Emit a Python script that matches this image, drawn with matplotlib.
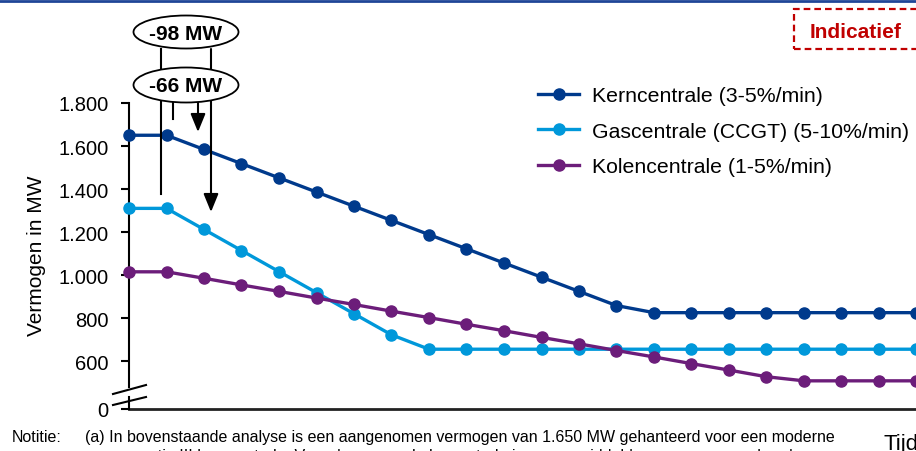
import numpy as np
import matplotlib
matplotlib.use("Agg")
import matplotlib.pyplot as plt
from matplotlib.patches import Ellipse, Rectangle, FancyArrowPatch
from matplotlib.lines import Line2D

plt.rcParams['font.family'] = ['Liberation Sans', 'DejaVu Sans']

# data (MW per tijdstap)
tijd = np.arange(22)
kern = [1650, 1650, 1584, 1518, 1452, 1386, 1320, 1254, 1188, 1122, 1056,
        990, 924, 858, 825, 825, 825, 825, 825, 825, 825, 825]
gas = [1310, 1310, 1212, 1114, 1016, 918, 820, 722, 655, 655, 655,
       655, 655, 655, 655, 655, 655, 655, 655, 655, 655, 655]
kolen = [1015, 1015, 985, 954, 924, 893, 863, 832, 802, 771, 741,
         710, 680, 649, 619, 588, 558, 527, 508, 508, 508, 508]

labels = ['Kerncentrale (3-5%/min)', 'Gascentrale (CCGT) (5-10%/min)',
          'Kolencentrale (1-5%/min)']
colors = ['#003a8c', '#0098da', '#6c1d7a']

ytick_vals = [600, 800, 1000, 1200, 1400, 1600, 1800]
ytick_labels = ['600', '800', '1.000', '1.200', '1.400', '1.600', '1.800']
y_break = 377  # onderkant van de as, getoond als "0"

W, H = 916, 452
fig = plt.figure(figsize=(W / 100, H / 100), dpi=100)


def px(x, y):
    """pixelpositie -> figuurfractie"""
    return (x / W, 1 - y / H)


ax = fig.add_axes([129 / W, (H - 410) / H, (954 - 129) / W, (410 - 104) / H])
for vals, c, lab in zip([kern, gas, kolen], colors, labels):
    ax.plot(tijd, vals, '-o', color=c, lw=2.4, ms=8, label=lab,
            clip_on=False, zorder=3)

ax.set_xlim(0, 22)
ax.set_ylim(y_break, 1800)
ax.set_xticks([])
ax.set_yticks([y_break] + ytick_vals)
ax.set_yticklabels(['0'] + ytick_labels, fontsize=14.5)
ax.tick_params(axis='y', length=5.5, width=1.5, pad=9)
for s in ['top', 'right']:
    ax.spines[s].set_visible(False)
ax.spines['left'].set_linewidth(1.5)
ax.spines['bottom'].set_linewidth(2)
ax.spines['bottom'].set_color('#222222')
# as-onderbreking
ax.spines['left'].set_bounds(y_break + (410 - 388) / 0.215, 1800)
fig.add_artist(Line2D([129 / W, 129 / W], [px(0, 398)[1], px(0, 410)[1]],
                      color='black', lw=1.5))
for y0, y1 in [(395, 386), (406, 398)]:
    fig.add_artist(Line2D([113 / W, 146 / W], [px(0, y0)[1], px(0, y1)[1]],
                          color='black', lw=1.5))

ax.set_ylabel('Vermogen in MW', fontsize=15)
ax.yaxis.set_label_coords(46 / W, px(0, 256)[1], transform=fig.transFigure)

ax.legend(loc='upper left', bbox_to_anchor=px(538, 87),
          bbox_transform=fig.transFigure, frameon=False, fontsize=15.3,
          handlelength=1.95, handletextpad=0.6, labelspacing=0.78,
          borderpad=0, borderaxespad=0)

# pijlen en ellipsen
for x, y0, y1 in [(161, 50, 195), (173, 103, 120)]:
    fig.add_artist(Line2D([x / W, x / W], [px(0, y0)[1], px(0, y1)[1]],
                          color='black', lw=1.5, zorder=5))
for x, y0, y1 in [(211, 50, 213), (198, 103, 133)]:
    fig.add_artist(FancyArrowPatch(px(x, y0), px(x, y1),
                                   transform=fig.transFigure,
                                   arrowstyle='-|>,head_length=1.1,head_width=0.45',
                                   mutation_scale=10, shrinkA=0, shrinkB=0,
                                   color='black', lw=1.5, zorder=5))
for cy, h, txt in [(33, 33, '-98 MW'), (86, 35, '-66 MW')]:
    fig.add_artist(Ellipse(px(186, cy), 105 / W, h / H,
                           transform=fig.transFigure, facecolor='white',
                           edgecolor='black', lw=1.3, zorder=6))
    fig.text(*px(186, cy + 1), txt, ha='center', va='center', fontsize=15,
             fontweight='bold', zorder=7)

# Indicatief
fig.add_artist(Rectangle(px(794, 50), (950 - 794) / W, 40 / H,
                         transform=fig.transFigure, fill=False,
                         edgecolor='#c00000', lw=1.6, ls=(0, (3, 1.8))))
fig.text(*px(856, 32), 'Indicatief', ha='center', va='center',
         fontsize=15, fontweight='bold', color='#c00000')

# bovenste lijn
fig.add_artist(Line2D([0, 1], [px(0, 2)[1]] * 2, color='#1f4597', lw=2))

# voetnoot
fig.text(*px(12, 442), 'Notitie:', fontsize=11.5, va='baseline')
fig.text(*px(85, 442), '(a) In bovenstaande analyse is een aangenomen vermogen '
         'van 1.650 MW gehanteerd voor een moderne', fontsize=11.5, va='baseline')
fig.text(*px(108, 461), 'generatie III kerncentrale. Voor de gas- en kolencentrale '
         'is een gemiddeld vermogen aangehouden', fontsize=11.5, va='baseline')
fig.text(*px(884, 450), 'Tijd', fontsize=16, va='baseline')

fig.savefig('out.png', dpi=100)
